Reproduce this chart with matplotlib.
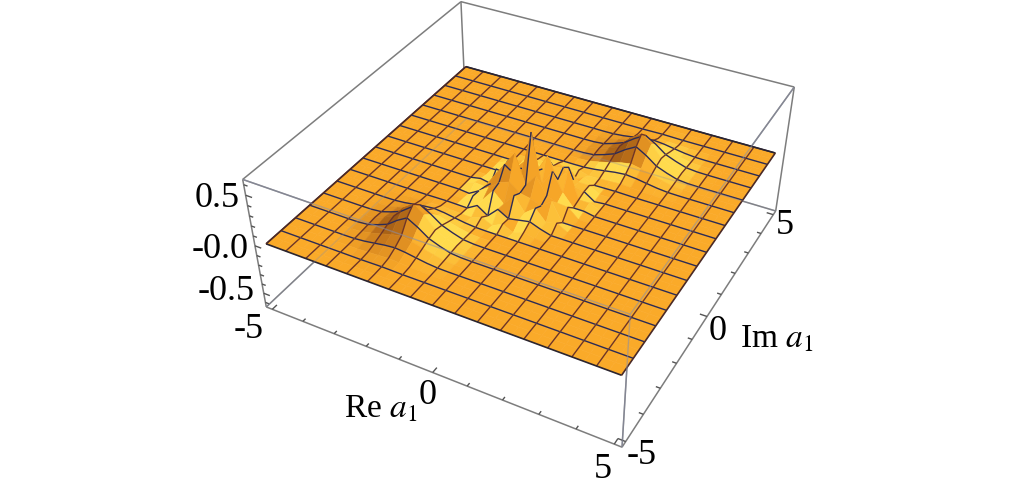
import numpy as np
import matplotlib
matplotlib.use('Agg')
import matplotlib.pyplot as plt
from mpl_toolkits.mplot3d.art3d import Poly3DCollection, Line3DCollection

plt.rcParams['font.family'] = ['Liberation Serif']
plt.rcParams['mathtext.fontset'] = 'stix'

# heights, 0.3125 apart, rows go along Im a1
hump = np.array([
    [.000, .000, .000, .000, .002, .004, .002, .000, .000, .000, .000],
    [.000, .000, .002, .006, .012, .018, .012, .006, .002, .000, .000],
    [.000, .002, .012, .028, .045, .055, .045, .028, .012, .002, .000],
    [.000, .006, .028, .055, .085, .105, .085, .055, .028, .006, .000],
    [.002, .012, .045, .085, .160, .220, .160, .085, .045, .012, .002],
    [.004, .018, .055, .105, .220, .290, .220, .105, .055, .018, .004],
    [.002, .012, .045, .085, .160, .220, .160, .085, .045, .012, .002],
    [.000, .006, .028, .055, .085, .105, .085, .055, .028, .006, .000],
    [.000, .002, .012, .028, .045, .055, .045, .028, .012, .002, .000],
    [.000, .000, .002, .006, .012, .018, .012, .006, .002, .000, .000],
    [.000, .000, .000, .000, .002, .004, .002, .000, .000, .000, .000],
])
fringes = np.array([
    [.00, .00, .00, .00, .00, .00, .00, .00, .00, .00, .00, .00, .00],
    [.00, .00, .00, .00, .04, -.01, .04, -.01, .03, .00, .00, .00, .00],
    [.00, .00, .00, .06, -.01, .09, .03, .05, .07, .03, .00, .00, .00],
    [.00, .00, .06, .06, .18, .08, .20, .06, .14, .03, .06, .00, .00],
    [.00, -.01, .05, .12, .20, .24, .16, .14, .10, .18, .00, .00, .00],
    [.00, .04, .03, .18, .32, .46, .18, .30, .14, .10, .09, .00, .00],
    [.00, .02, .00, .10, .20, .16, .64, .16, .32, .14, .02, .02, .00],
    [.00, .00, .09, .08, .16, .28, .20, .38, .18, .30, .04, .04, .00],
    [.00, .00, .00, .16, .10, .12, .16, .22, .24, .08, .06, -.01, .00],
    [.00, .00, .05, .02, .12, .06, .20, .08, .18, .06, .06, .00, .00],
    [.00, .00, .00, .03, .06, .03, .07, .09, -.01, .05, .00, .00, .00],
    [.00, .00, .00, .00, .02, -.01, .04, -.01, .03, .00, .00, .00, .00],
    [.00, .00, .00, .00, .00, .00, .00, .00, .00, .00, .00, .00, .00],
])
minor_xy = [-5, -4, -3, -2, -1, 0, 1, 2, 3, 4, 5]
minor_z = [-.6, -.5, -.4, -.3, -.2, -.1, 0, .1, .2, .3, .4, .5, .6]
major_xy = [-5, 0, 5]
major_z = [-.5, 0, .5]

B = 5.2
Z = 0.65

fig = plt.figure(figsize=(10.1, 4.96), dpi=100)
# square axes bigger than the figure, 3d axes are always square
ax = fig.add_axes([0, -257 / 496, 1, 1010 / 496], projection='3d', computed_zorder=False)
ax.set_axis_off()
ax.set_autoscale_on(False)

# camera fitted to where the box corners sit in the picture
world = np.array([[-B, -B, -Z], [B, -B, -Z], [B, B, -Z], [-B, B, -Z],
                  [-B, -B, Z], [B, -B, Z], [B, B, Z], [-B, B, Z],
                  [-5, -5, 0], [5, -5, 0], [5, 5, 0], [-5, 5, 0]])
pix = np.array([[265, 307], [622, 445], [777, 210], [467, 118],
                [243, 178], [630, 316], [793, 85], [463, 0],
                [267, 244], [622, 377], [775, 155], [463, 70]], float)
A = []
for (X, Y, W), (u, v) in zip(world, pix):
    h = [X, Y, W, 1]
    A.append(h + [0, 0, 0, 0] + [-u * c for c in h])
    A.append([0, 0, 0, 0] + h + [-v * c for c in h])
P = np.linalg.svd(np.array(A))[2][-1].reshape(3, 4)
if P[2, 3] < 0:
    P = -P
M = np.array([P[0], P[1], [-1e-3 * P[2, 3], 1e-3 * P[2, 3], -3e-4 * P[2, 3], 0], P[2]])
ax.get_proj = lambda: M

x = np.linspace(-5, 5, 33)
y = np.linspace(-5, 5, 33)
xx, yy = np.meshgrid(x, y)
zz = np.zeros_like(xx)
zz[2:13, 5:16] += hump
zz[20:31, 17:28] += hump
zz[10:23, 10:23] += fringes

# shading of each small quad
dzdx = (zz[:-1, 1:] + zz[1:, 1:] - zz[:-1, :-1] - zz[1:, :-1]) / 2 / (x[1] - x[0]) * 3.2
dzdy = (zz[1:, :-1] + zz[1:, 1:] - zz[:-1, :-1] - zz[:-1, 1:]) / 2 / (y[1] - y[0]) * 3.2
light = np.array([0.62, 0.2, 0.76])
lit = (-dzdx * light[0] - dzdy * light[1] + light[2]) / np.sqrt(dzdx ** 2 + dzdy ** 2 + 1) - light[2]
# soften the facets of the humps, keep the middle mostly flat orange with a yellow rim
soft = lit.copy()
soft[1:-1, 1:-1] = sum(lit[1 + a:lit.shape[0] - 1 + a, 1 + b:lit.shape[1] - 1 + b]
                       for a in (-1, 0, 1) for b in (-1, 0, 1)) / 9
mean_z = (zz[:-1, :-1] + zz[1:, :-1] + zz[:-1, 1:] + zz[1:, 1:]) / 4
soft[9:23, 9:23] = np.where(mean_z[9:23, 9:23] < 0.09, np.abs(lit[9:23, 9:23]) * 0.6, lit[9:23, 9:23] * 0.2)
knots = [-0.7, -0.3, 0, 0.12]
red = np.interp(soft, knots, [.42, .76, .98, 1.0])
green = np.interp(soft, knots, [.22, .45, .665, .86])
blue = np.interp(soft, knots, [.06, .10, .16, .30])
colors = np.dstack([red, green, blue, np.ones_like(red)])

GRAY = '#7d7d7d'
NAVY = '#2d2b55'
BROWN = '#6e3527'


def lines(segs, zorder, **kw):
    ax.add_collection3d(Line3DCollection(segs, zorder=zorder, **kw), autolim=False)


corners = {'a': (-B, -B, -Z), 'b': (B, -B, -Z), 'c': (B, B, -Z), 'd': (-B, B, -Z),
           'e': (-B, -B, Z), 'f': (B, -B, Z), 'g': (B, B, Z), 'h': (-B, B, Z)}
lines([[corners[k1], corners[k2]] for k1, k2 in ['ab', 'bc', 'cd', 'da', 'ae', 'bf', 'cg', 'dh', 'ef', 'fg', 'gh', 'he']],
      1, colors=GRAY, linewidths=1.1)

# ticks on the three labelled edges
ticks = []
for t in minor_xy:
    size = 0.2 if t in major_xy else 0.12
    ticks.append([(t, -B, -Z), (t, -B + size, -Z)])
    ticks.append([(B, t, -Z), (B - size, t, -Z)])
for t in minor_z:
    size = 0.2 if t in major_z else 0.12
    ticks.append([(-B, -B, t), (-B + size, -B, t)])
lines(ticks, 1, colors='#555555', linewidths=1)

# one mesh cell at a time, back to front, so the spikes hide what is behind them
order = 2
for i in range(0, 32, 2):
    for j in range(30, -1, -2):
        polys = []
        cols = []
        for a in range(2):
            for b in range(2):
                r, c = j + a, i + b
                polys.append([(x[c], y[r], zz[r, c]), (x[c + 1], y[r], zz[r, c + 1]),
                              (x[c + 1], y[r + 1], zz[r + 1, c + 1]), (x[c], y[r + 1], zz[r + 1, c])])
                cols.append(colors[r, c])
        coll = Poly3DCollection(polys, facecolors=cols, edgecolors=cols, linewidths=0.4, zorder=order)
        ax.add_collection3d(coll, autolim=False)
        # inside the spikes only the steep creases show up as dark lines
        middle = 12 <= i <= 18 and 12 <= j <= 18
        lines([list(zip(x[i] * np.ones(3), y[j:j + 3], zz[j:j + 3, i]))], order + 1,
              colors=NAVY if middle else BROWN, linewidths=1.0)
        if not middle:
            lines([list(zip(x[i:i + 3], y[j + 2] * np.ones(3), zz[j + 2, i:i + 3]))], order + 1, colors=NAVY, linewidths=1.0)
        order += 2

# remaining borders
lines([list(zip(x, y[0] * np.ones(33), zz[0])), list(zip(x, y[-1] * np.ones(33), zz[-1]))],
      order, colors='#2b2530', linewidths=1.2)
lines([list(zip(x[-1] * np.ones(33), y, zz[:, -1])), list(zip(x[0] * np.ones(33), y, zz[:, 0]))],
      order, colors='#4a2a28', linewidths=1.2)

# box lines that show faintly through the surface
lines([[corners[k1], corners[k2]] for k1, k2 in ['ef', 'fg', 'bf']], order + 1, colors='#8a8fa8', linewidths=1, alpha=0.55)
lines([[corners[k1], corners[k2]] for k1, k2 in ['cd', 'da']], order + 1, colors='#8a8fa8', linewidths=1, alpha=0.3)

ax.viewLim.intervalx = (0, 1010)
ax.viewLim.intervaly = (753, -257)


def label(px, py, s, size=26, **kw):
    fig.text(px / 1010, 1 - py / 496, s, fontsize=size, color='black', **kw)


label(217, 199, '0.5', ha='center', va='center')
label(220, 249, '-0.0', ha='center', va='center')
label(226, 292, '-0.5', ha='center', va='center')
label(249, 330, '-5', ha='center', va='center')
label(428, 396, '0', ha='center', va='center')
label(603, 469, '5', ha='center', va='center')
label(642, 456, '-5', ha='center', va='center')
label(718, 332, '0', ha='center', va='center')
label(785, 226, '5', ha='center', va='center')
label(344, 418, r'Re $a_1$', size=24, ha='left', va='baseline')
label(740, 347, r'Im $a_1$', size=24, ha='left', va='baseline')

fig.savefig('out.png', dpi=100)
